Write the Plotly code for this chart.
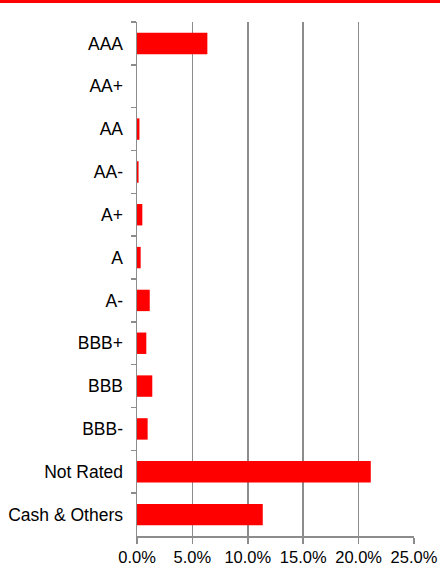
import plotly.graph_objects as go

categories = ["AAA", "AA+", "AA", "AA-", "A+", "A", "A-", "BBB+", "BBB", "BBB-", "Not Rated", "Cash & Others"]
values = [6.35, 0.0, 0.22, 0.14, 0.48, 0.33, 1.15, 0.84, 1.38, 0.96, 21.1, 11.35]
x_ticks = [0, 5, 10, 15, 20, 25]
x_tick_labels = ["0.0%", "5.0%", "10.0%", "15.0%", "20.0%", "25.0%"]

W, H = 440, 567
ML, MR, MT, MB = 137, 26, 22, 31
pw, ph = W - ML - MR, H - MT - MB

fig = go.Figure(go.Bar(
    y=categories, x=values, orientation="h",
    marker=dict(color="#FF0000", line=dict(width=0)),
    hoverinfo="skip",
))

fig.update_layout(
    width=W, height=H,
    margin=dict(l=ML, r=MR, t=MT, b=MB, pad=0, autoexpand=False),
    paper_bgcolor="white", plot_bgcolor="white",
    bargap=0.5, showlegend=False,
    font=dict(family="Liberation Sans, Arial, sans-serif", size=16, color="#000000"),
    xaxis=dict(
        range=[0, 25], tickvals=x_ticks, ticktext=x_tick_labels,
        showgrid=True, gridcolor="#8C8C8C", gridwidth=1.5,
        showline=True, linecolor="#8C8C8C", linewidth=1.5,
        ticks="outside", ticklen=6, tickcolor="#8C8C8C", tickwidth=1.5,
        zeroline=False, tickfont=dict(size=16.5), automargin=False,
    ),
    yaxis=dict(
        autorange="reversed", type="category",
        showgrid=False, showline=True, linecolor="#8C8C8C", linewidth=1.5,
        ticks="outside", ticklen=5, tickcolor="#8C8C8C", tickwidth=1.5,
        tickson="boundaries", tickfont=dict(size=17.5),
        ticklabelstandoff=9, automargin=False,
    ),
    shapes=[dict(
        type="rect", xref="paper", yref="paper",
        x0=-ML / pw, x1=1 + MR / pw,
        y0=1 + (MT - 3) / ph, y1=1 + MT / ph,
        fillcolor="#FF0000", line=dict(width=0), layer="above",
    )],
)

fig.write_html(
    "out.html",
    config={"displayModeBar": False, "staticPlot": True},
    post_script="document.body.style.margin='0';document.body.style.padding='0';",
)
